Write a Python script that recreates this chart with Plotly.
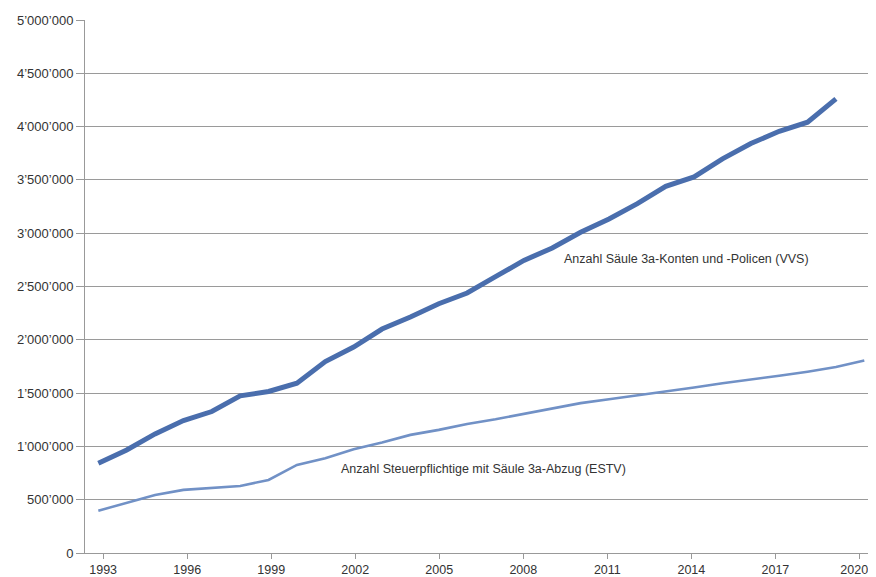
import plotly.graph_objects as go

years_vvs = list(range(1993, 2020))
vvs = [842000, 967000, 1117000, 1242000, 1327000, 1474000, 1515000, 1593000, 1796000,
       1932000, 2101000, 2213000, 2338000, 2439000, 2592000, 2745000, 2861000, 3008000,
       3133000, 3277000, 3440000, 3528000, 3697000, 3841000, 3956000, 4041000, 4260000]

years_estv = list(range(1993, 2021))
estv = [397000, 468000, 545000, 592000, 608000, 629000, 685000, 826000, 889000, 974000,
        1036000, 1108000, 1155000, 1211000, 1255000, 1305000, 1359000, 1406000, 1443000,
        1477000, 1515000, 1552000, 1593000, 1624000, 1662000, 1700000, 1744000, 1806000]

x_ticks = list(range(1993, 2021, 3))
x_labels = [str(t) if t < 2020 else str(t) + "\u00a0\u00a0\u00a0" for t in x_ticks]
y_ticks = list(range(0, 5000001, 500000))
y_labels = ["0" if v == 0 else f"{v:,}".replace(",", "’") for v in y_ticks]

label_vvs = "Anzahl Säule 3a-Konten und -Policen (VVS)"
label_estv = "Anzahl Steuerpflichtige mit Säule 3a-Abzug (ESTV)"

fig = go.Figure()
fig.add_trace(go.Scatter(x=years_estv, y=estv, mode="lines",
                         line=dict(color="#7191c6", width=2.6), showlegend=False))
fig.add_trace(go.Scatter(x=years_vvs, y=vvs, mode="lines",
                         line=dict(color="#4a6ead", width=5), showlegend=False))

fig.add_annotation(x=2009.33, y=2760000, text=label_vvs, showarrow=False,
                   xanchor="left", yanchor="middle",
                   font=dict(family="Liberation Sans, Arial", size=12.5, color="#333333"))
fig.add_annotation(x=2001.5, y=789000, text=label_estv, showarrow=False,
                   xanchor="left", yanchor="middle",
                   font=dict(family="Liberation Sans, Arial", size=12.5, color="#333333"))

# in the reference the year ticks sit on a slightly different grid than the points
tick_pos = [1993.17 + (t - 1993) * 0.9873 for t in x_ticks]

# the page body adds an 8px offset and the visible width is 860px
fig.update_layout(
    width=860, height=569,
    margin=dict(l=77, r=0, t=12, b=24, autoexpand=False),
    paper_bgcolor="white", plot_bgcolor="white",
    font=dict(family="Liberation Sans, Arial", size=13, color="#333333"),
    xaxis=dict(range=[1992.53, 2020.13], tickmode="array", automargin=False,
               tickvals=tick_pos, ticktext=x_labels,
               ticklabeloverflow="allow",
               showgrid=False, zeroline=False, showline=True, linecolor="#999999",
               linewidth=1, ticks="outside", ticklen=5, tickcolor="#999999",
               tickfont=dict(size=12.5, color="#333333")),
    yaxis=dict(range=[0, 5000000], tickmode="array", tickvals=y_ticks, ticktext=y_labels,
               automargin=False,
               showgrid=True, gridcolor="#9a9a9a", gridwidth=1, zeroline=False,
               showline=True, linecolor="#999999", linewidth=1,
               ticks="outside", ticklen=8, tickcolor="#999999",
               tickfont=dict(size=13, color="#333333")),
)

fig.write_html("out.html")
